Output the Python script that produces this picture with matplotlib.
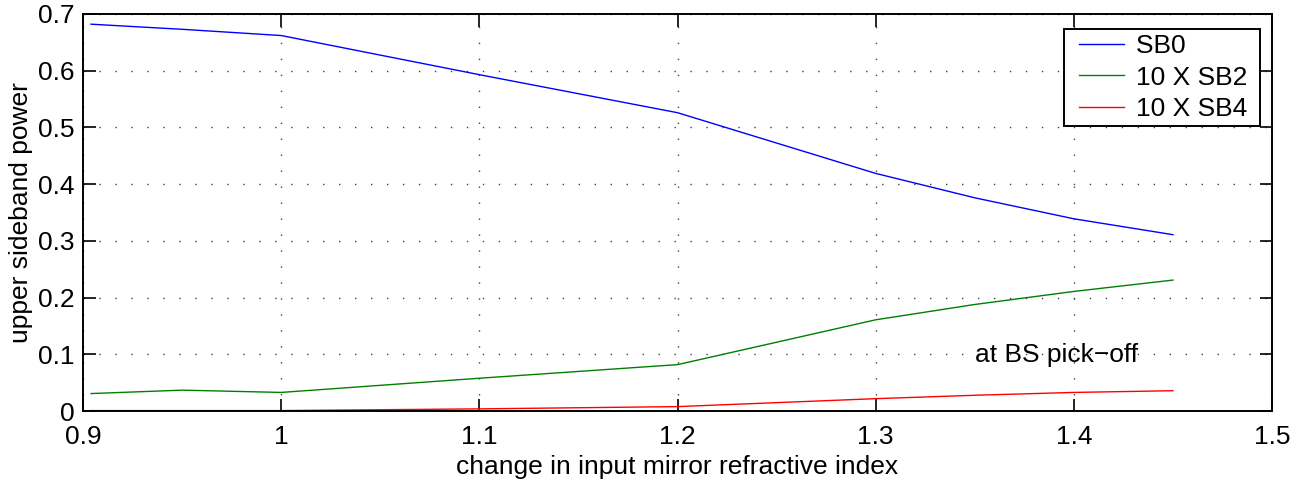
import matplotlib
matplotlib.use("Agg")
from matplotlib import pyplot as plt
from matplotlib.lines import Line2D
from matplotlib.legend_handler import HandlerLine2D

plt.rcParams["font.family"] = ["Liberation Sans", "DejaVu Sans"]

# Upper sideband power vs input mirror index change (SB2, SB4 scaled by 10).
index_change = [0.904, 0.95, 1.0, 1.1, 1.2, 1.3, 1.35, 1.4, 1.45]
sb0 = [0.682, 0.673, 0.662, 0.593, 0.526, 0.419, 0.376, 0.339, 0.311]
sb2_x10 = [0.031, 0.037, 0.033, 0.058, 0.082, 0.161, 0.188, 0.211, 0.231]
sb4_x10 = [0.001, 0.001, 0.001, 0.004, 0.008, 0.022, 0.028, 0.033, 0.036]

FS = 19

fig = plt.figure(figsize=(13.04, 4.82), dpi=100)
ax = fig.add_axes([0.0637, 0.147, 0.9118, 0.824])

ax.plot(index_change, sb0, color="blue", lw=1.0, label="SB0 ")
ax.plot(index_change, sb2_x10, color="green", lw=1.0, label="10 X SB2 ")
ax.plot(index_change, sb4_x10, color="red", lw=1.0, label="10 X SB4 ")

ax.text(1.35, 0.099, "at BS pick\u2212off", fontsize=FS, va="center")

ax.set_xlim(0.9, 1.5)
ax.set_ylim(0, 0.7)
ax.set_xticks([0.9, 1, 1.1, 1.2, 1.3, 1.4, 1.5])
ax.set_xticklabels(["0.9", "1", "1.1", "1.2", "1.3", "1.4", "1.5"])
ax.set_yticks([0, 0.1, 0.2, 0.3, 0.4, 0.5, 0.6, 0.7])
ax.set_yticklabels(["0", "0.1", "0.2", "0.3", "0.4", "0.5", "0.6", "0.7"])
ax.tick_params(direction="in", length=9, width=1.2, top=True, right=True,
               labelsize=FS)
ax.tick_params(axis="x", pad=10)
ax.tick_params(axis="y", pad=6)
ax.grid(True, ls=(0, (1, 10.5)), color="#444444", lw=1.0)
for s in ax.spines.values():
    s.set_linewidth(1.4)

ax.set_xlabel("change in input mirror refractive index", fontsize=FS, labelpad=4)
ax.set_ylabel("upper sideband power", fontsize=FS, labelpad=4)

# legend handles inset a little from the frame, like the MATLAB box
leg = ax.legend(loc="upper right", bbox_to_anchor=(0.9899, 0.9623), fontsize=FS,
                fancybox=False, edgecolor="black", framealpha=1,
                handlelength=2.05, labelspacing=0.27, borderpad=0.21,
                handletextpad=0.45, borderaxespad=0,
                handler_map={Line2D: HandlerLine2D(xpad=0.34)})
leg.get_frame().set_linewidth(1.4)

fig.savefig("out.png", dpi=100)
